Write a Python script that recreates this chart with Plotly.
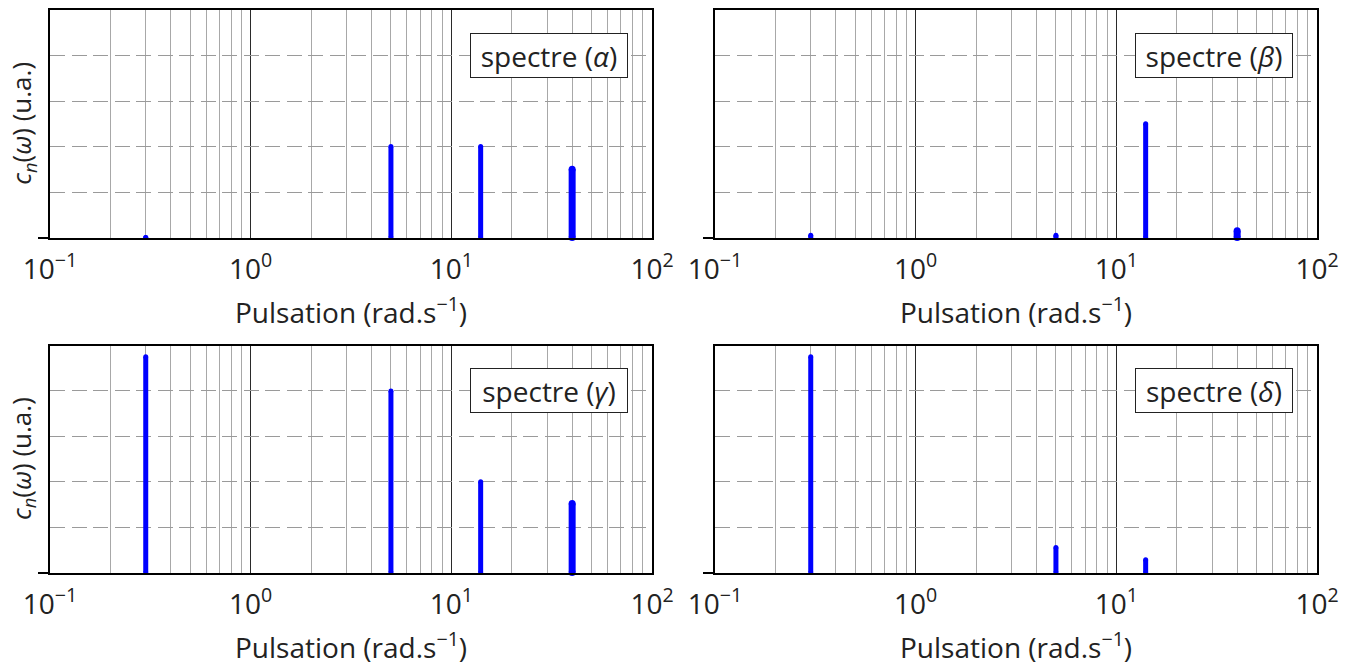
import plotly.graph_objects as go

# ---- data ----
freqs = [0.3, 5, 14, 40]
stem_widths = [5, 5, 5, 7]
alpha_vals = [0.0, 2.0, 2.0, 1.5]
beta_vals = [0.05, 0.05, 2.5, 0.15]
gamma_vals = [4.75, 4.0, 2.0, 1.52]
delta_vals = [4.75, 0.55, 0.28, None]
panel_labels = ["spectre (<i>α</i>)", "spectre (<i>β</i>)", "spectre (<i>γ</i>)", "spectre (<i>δ</i>)"]
x_tickvals = [0.1, 1, 10, 100]
x_ticktext = ["10<sup>−1</sup>", "10<sup>0</sup>", "10<sup>1</sup>", "10<sup>2</sup>"]
y_gridvals = [1, 2, 3, 4]
x_title = "Pulsation (rad.s<sup>−1</sup>)"
y_title = "<i>c<sub>n</sub></i>(<i>ω</i>) (u.a.)"

minor_vals = [m * 10 ** e for e in (-1, 0, 1) for m in range(2, 10)]

W, H = 1355, 666
FONT = "Open Sans"
TXT = "#222"
BLUE = "#0000ff"

# panel pixel boxes (left, right, top, bottom)
boxes = [(50, 652, 10, 237.5), (715, 1317, 10, 237.5),
         (50, 652, 345.5, 572.5), (715, 1317, 345.5, 572.5)]
series = [alpha_vals, beta_vals, gamma_vals, delta_vals]

fig = go.Figure()
layout = dict(width=W, height=H, margin=dict(l=0, r=0, t=0, b=0, autoexpand=False),
              paper_bgcolor="white", plot_bgcolor="white", showlegend=False,
              font=dict(family=FONT, color=TXT))
annotations = []

for i, ((l, r, t, b), vals) in enumerate(zip(boxes, series)):
    xa = "xaxis" if i == 0 else f"xaxis{i+1}"
    ya = "yaxis" if i == 0 else f"yaxis{i+1}"
    xr = "x" if i == 0 else f"x{i+1}"
    yr = "y" if i == 0 else f"y{i+1}"
    layout[xa] = dict(
        type="log", range=[-1, 2], domain=[l / W, r / W], anchor=yr,
        tickmode="array", tickvals=x_tickvals, ticktext=x_ticktext,
        showgrid=True, gridcolor="#2a2a2a", gridwidth=1,
        minor=dict(tickmode="array", tickvals=minor_vals, showgrid=True,
                   gridcolor="#a8a8a8", gridwidth=1, ticks=""),
        ticks="", showline=True, linecolor="black", linewidth=2, mirror=True,
        tickfont=dict(size=28, family=FONT, color=TXT), ticklabelstandoff=6,
        automargin=False, zeroline=False,
    )
    layout[ya] = dict(
        range=[0, 5], domain=[1 - b / H, 1 - t / H], anchor=xr,
        tickmode="array", tickvals=y_gridvals, showticklabels=False,
        showgrid=True, gridcolor="#9a9a9a", gridwidth=1, griddash="15px,6.5px",
        minor=dict(tickmode="array", tickvals=[0], ticks="outside", ticklen=10,
                   tickcolor="black", tickwidth=2, showgrid=False),
        ticks="", showline=True, linecolor="black", linewidth=2, mirror=True,
        automargin=False, zeroline=False,
    )
    for f, v, w in zip(freqs, vals, stem_widths):
        if v is None:
            continue
        fig.add_trace(go.Scatter(
            x=[f, f], y=[0, v], xaxis=xr, yaxis=yr, mode="lines+markers",
            line=dict(color=BLUE, width=w),
            marker=dict(color=BLUE, size=w, line=dict(width=0)),
            hoverinfo="skip", cliponaxis=False,
        ))
    annotations.append(dict(
        text=panel_labels[i], xref=f"{xr} domain", yref=f"{yr} domain",
        x=0.96, y=0.899, xanchor="right", yanchor="top", showarrow=False,
        width=150, height=37, align="center", valign="middle",
        font=dict(size=28, family=FONT, color=TXT),
        bordercolor="#222", borderwidth=1, borderpad=3, bgcolor="white",
    ))
    # x axis title
    annotations.append(dict(
        text=x_title, xref="paper", yref="paper",
        x=(l + r) / 2 / W, y=1 - (b + 73) / H, xanchor="center", yanchor="middle",
        showarrow=False, font=dict(size=28, family=FONT, color=TXT),
    ))
    if i % 2 == 0:
        annotations.append(dict(
            text=y_title, xref="paper", yref="paper", textangle=-90,
            x=22 / W, y=1 - ((t + b) / 2) / H, xanchor="center", yanchor="middle",
            showarrow=False, font=dict(size=26, family=FONT, color=TXT),
        ))

layout["annotations"] = annotations
fig.update_layout(**layout)
fig.write_html("out.html", config={"displayModeBar": False},
               post_script="document.body.style.margin='0px';document.body.style.overflow='hidden';")
